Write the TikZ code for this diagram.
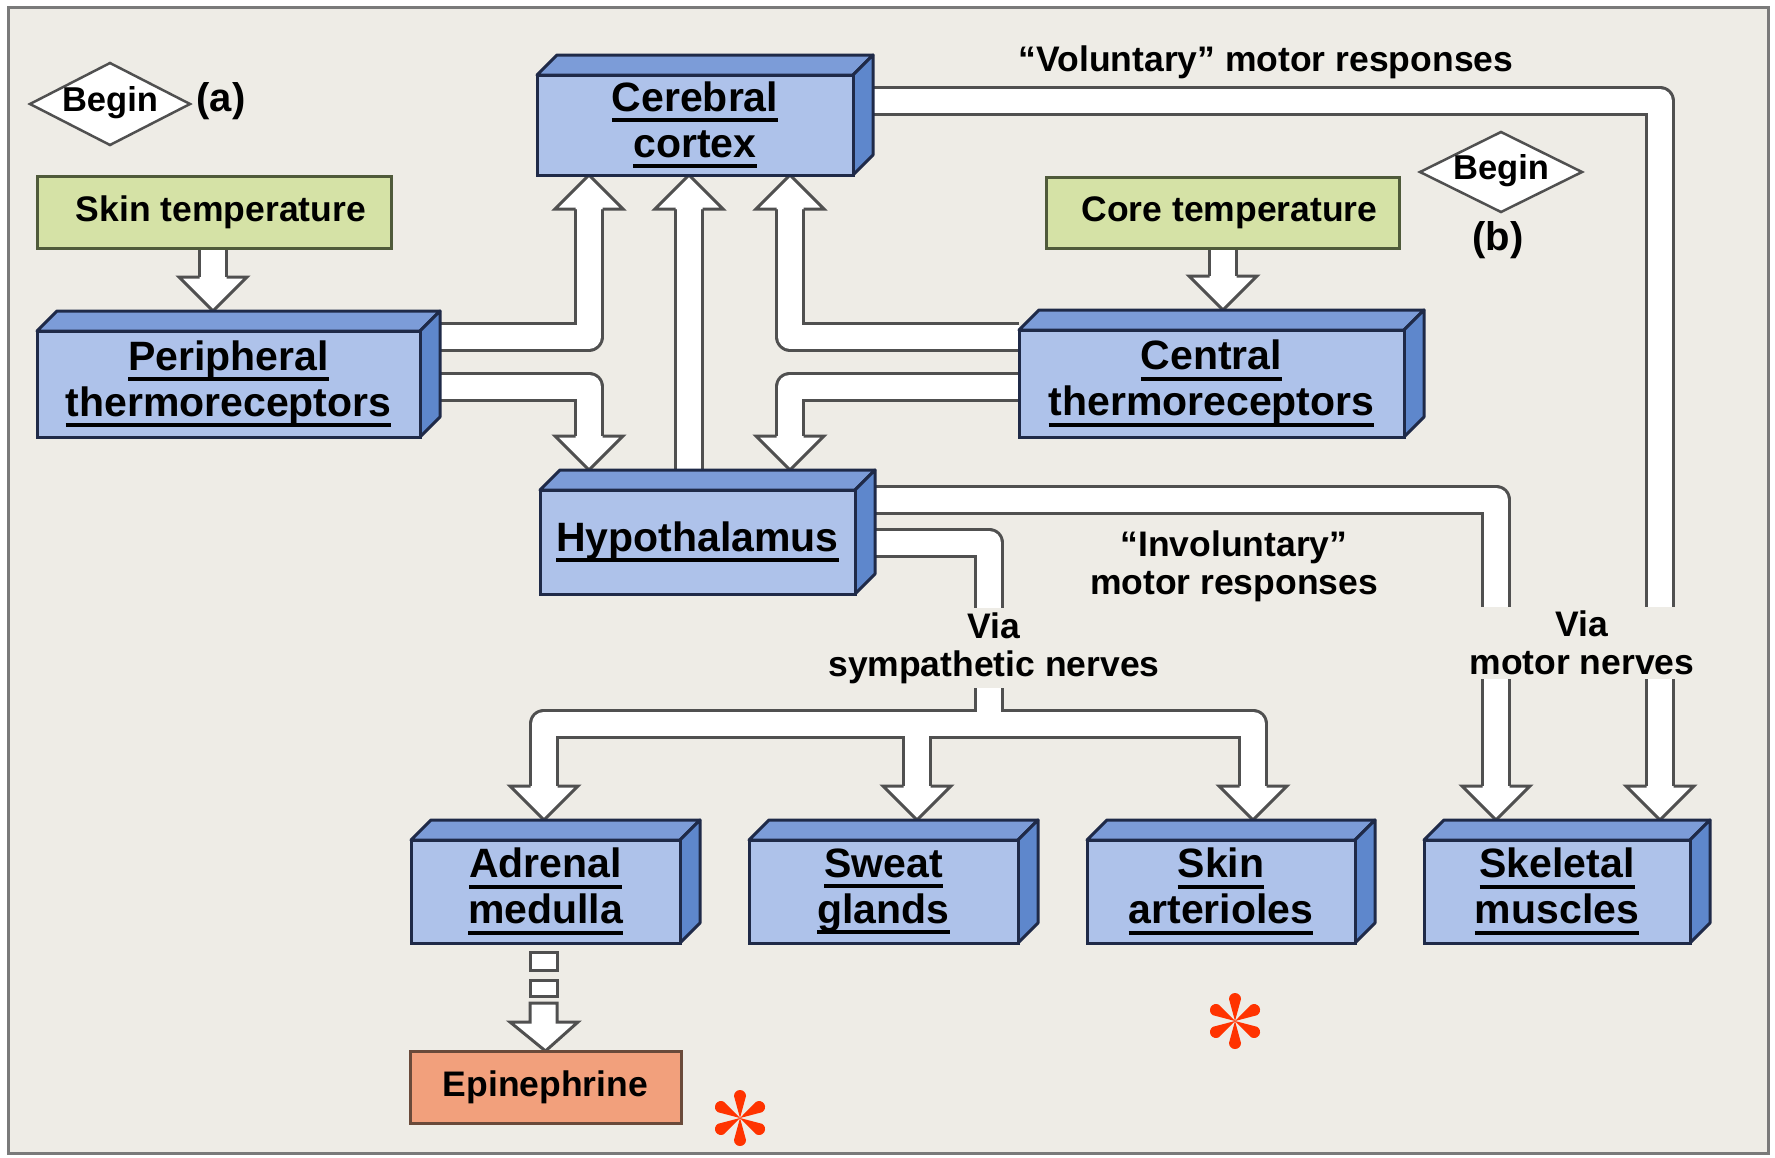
\documentclass[tikz,border=0pt]{standalone}
\usepackage{fontspec}
\setmainfont{Liberation Sans}
\usetikzlibrary{calc}
\pgfdeclarelayer{back}
\pgfdeclarelayer{chan}
\pgfsetlayers{back,chan,main}
\definecolor{bg}{HTML}{EEECE6}
\definecolor{framec}{HTML}{7A7A7A}
\definecolor{frontc}{HTML}{AEC2EA}
\definecolor{topc}{HTML}{7C9CD8}
\definecolor{sidec}{HTML}{5E87CC}
\definecolor{edgec}{HTML}{1F2A48}
\definecolor{greenc}{HTML}{D5E2A6}
\definecolor{greenedge}{HTML}{4F5A3A}
\definecolor{epic}{HTML}{F2A07C}
\definecolor{epiedge}{HTML}{6A4A3A}
\definecolor{chanline}{HTML}{505050}
\definecolor{astc}{HTML}{FF3300}

\newcommand{\ulw}[1]{\leavevmode\setbox0\hbox{#1}\rlap{\raisebox{-11pt}{\rule{\wd0}{4pt}}}\box0}

% 3D box: name, x1, y1, x2, y2 (front face), text
\newcommand{\tdbox}[6]{%
  \filldraw[topf] (#2,#3) -- (#2+20,#3-20) -- (#4+20,#3-20) -- (#4,#3) -- cycle;
  \filldraw[sidef] (#4,#3) -- (#4+20,#3-20) -- (#4+20,#5-20) -- (#4,#5) -- cycle;
  \node[front, minimum width={(#4-#2)*1pt}, minimum height={(#5-#3)*1pt}] (#1) at ({(#2+#4)/2},{(#3+#5)/2}) {#6};
  \coordinate (#1T) at ({(#2+#4)/2+10},#3-20);
  \coordinate (#1R) at (#4+20,{(#3+#5)/2});
}

% arrow head: tip coordinate, direction (1 down, -1 up)
\newcommand{\ahd}[2]{%
  \fill[white] (#1) -- ++(-34,{-34*#2}) -- ++(68,0) -- cycle;
  \draw[headst] ($(#1)+(-13.5,{-34*#2})$) -- ++(-20.5,0) -- (#1) -- ++(34,{-34*#2}) -- ++(-20.5,0);
}

% all channel centre lines
\newcommand{\chanset}[1]{%
  \draw[#1] (213,0 |- skin.south) -- ($(tSkin)+(0,-20)$);
  \draw[#1] (1223,0 |- core.south) -- ($(tCore)+(0,-20)$);
  \draw[#1] (perR |- 0,336.5) -- (589,336.5) -- ($(tPC)+(0,20)$);
  \draw[#1] (perR |- 0,386.5) -- (589,386.5) -- ($(tPH)+(0,-20)$);
  \draw[#1] (689,0 |- hypT) -- ($(tHC)+(0,20)$);
  \draw[#1] (cen.west |- 0,336.5) -- (790,336.5) -- ($(tCC)+(0,20)$);
  \draw[#1] (cen.west |- 0,386.5) -- (790,386.5) -- ($(tCH)+(0,-20)$);
  \draw[#1] (ctxR |- 0,101) -- (1660,101) -- ($(tVol)+(0,-20)$);
  \draw[#1] (hypR |- 0,499.5) -- (1496,499.5) -- ($(tInv)+(0,-20)$);
  \draw[#1] (hypR |- 0,542.5) -- (989,542.5) -- (br);
  \draw[#1] (br) -- (544,723.5) -- ($(tAdr)+(0,-20)$);
  \draw[#1] (917,723.5) -- ($(tSw)+(0,-20)$);
  \draw[#1] (br) -- (1253,723.5) -- ($(tArt)+(0,-20)$);
}

\newcommand{\redstar}[2]{%
  \foreach \ang in {90,30,-30,-90,150,210}{%
    \fill[astc, shift={(#1,#2)}, rotate=\ang] (0,0) -- (22,6) arc[start angle=90, end angle=-90, radius=6] -- cycle;}%
}

\begin{document}
\begin{tikzpicture}[x=1pt, y=-1pt,
  front/.style={draw=edgec, fill=frontc, line width=3pt, inner sep=0pt, outer sep=0pt, align=center, font=\fontsize{41}{46}\selectfont\bfseries},
  topf/.style={draw=edgec, fill=topc, line width=3pt, line join=round},
  sidef/.style={draw=edgec, fill=sidec, line width=3pt, line join=round},
  tempbox/.style={draw=greenedge, fill=greenc, line width=3pt, inner sep=0pt, outer sep=0pt, font=\fontsize{35.5}{38}\selectfont\bfseries},
  epibox/.style={draw=epiedge, fill=epic, line width=3pt, inner sep=0pt, outer sep=0pt, font=\fontsize{35.5}{38}\selectfont\bfseries},
  lbl/.style={align=center, inner sep=0pt, font=\fontsize{35.5}{38}\selectfont\bfseries},
  biglbl/.style={inner sep=0pt, font=\fontsize{40}{44}\selectfont\bfseries},
  beginlbl/.style={inner sep=0pt, font=\fontsize{34.5}{38}\selectfont\bfseries},
  diam/.style={draw=chanline, fill=white, line width=2.5pt, line join=miter},
  chanout/.style={draw=chanline, line width=30pt, line join=round},
  chanin/.style={draw=white, line width=24pt, line join=round},
  headst/.style={draw=chanline, line width=3pt, line join=miter, fill=white}]
\useasboundingbox (0,0) rectangle (1775,1157);
\begin{pgfonlayer}{back}
  \fill[white] (0,0) rectangle (1775,1157);
  \filldraw[fill=bg, draw=framec, line width=3pt] (8,7) rectangle (1768,1153);
\end{pgfonlayer}

% flat boxes
\node[tempbox, minimum width=354pt, minimum height=72pt] (skin) at (214,212) {\hspace*{14pt}Skin temperature};
\node[tempbox, minimum width=353pt, minimum height=71pt] (core) at (1222.5,212.5) {\hspace*{14pt}Core temperature};
\node[epibox, minimum width=271pt, minimum height=72pt] (epi) at (545.5,1087) {Epinephrine};

% 3D boxes
\tdbox{ctx}{537}{75}{853}{175}{\ulw{Cerebral}\\\ulw{cortex}}
\tdbox{per}{37}{331}{420}{437}{\ulw{Peripheral}\\\ulw{thermoreceptors}}
\tdbox{hyp}{540}{490}{855}{594}{\ulw{Hypothalamus}}
\tdbox{cen}{1019}{330}{1404}{437}{\ulw{Central}\\\ulw{thermoreceptors}}
\tdbox{adr}{411}{840}{680}{943}{\ulw{Adrenal}\\\ulw{medulla}}
\tdbox{sw}{749}{840}{1018}{943}{\ulw{Sweat}\\\ulw{glands}}
\tdbox{art}{1087}{840}{1355}{943}{\ulw{Skin}\\\ulw{arterioles}}
\tdbox{skel}{1424}{840}{1690}{943}{\ulw{Skeletal}\\\ulw{muscles}}

% Begin diamonds
\filldraw[diam] (30,104) -- (110,63) -- (190,104) -- (110,145) -- cycle;
\node[beginlbl] (bega) at (110,103) {Begin};
\node[biglbl] (la) at (221,101) {(a)};
\filldraw[diam] (1420,172) -- (1501,132) -- (1582,172) -- (1501,212) -- cycle;
\node[beginlbl] (begb) at (1501,171) {Begin};
\node[biglbl] (lb) at (1498,240) {(b)};

% labels
\node[lbl] (vol) at (1266,62) {“Voluntary” motor responses};
\node[lbl] (invol) at (1234,566) {“Involuntary”\\motor responses};
\node[lbl, fill=bg, inner sep=4pt] (symp) at (994,648) {Via\\sympathetic nerves};
\node[lbl, fill=bg, inner sep=4pt] (motn) at (1582,643) {Via\\motor nerves};

% arrow tips
\coordinate (tSkin) at (213,0 |- perT);
\coordinate (tCore) at (1223,0 |- cenT);
\coordinate (tPC) at (589,0 |- ctx.south);
\coordinate (tPH) at (589,0 |- hypT);
\coordinate (tHC) at (689,0 |- ctx.south);
\coordinate (tCC) at (790,0 |- ctx.south);
\coordinate (tCH) at (790,0 |- hypT);
\coordinate (tVol) at (1660,0 |- skelT);
\coordinate (tInv) at (1496,0 |- skelT);
\coordinate (tAdr) at (544,0 |- adrT);
\coordinate (tSw) at (917,0 |- swT);
\coordinate (tArt) at (1253,0 |- artT);
\coordinate (br) at (989,723.5);

\begin{pgfonlayer}{chan}
  \chanset{chanout}
  \chanset{chanin}
  \ahd{tSkin}{1}
  \ahd{tCore}{1}
  \ahd{tPC}{-1}
  \ahd{tPH}{1}
  \ahd{tHC}{-1}
  \ahd{tCC}{-1}
  \ahd{tCH}{1}
  \ahd{tVol}{1}
  \ahd{tInv}{1}
  \ahd{tAdr}{1}
  \ahd{tSw}{1}
  \ahd{tArt}{1}
  % adrenal -> epinephrine (broken arrow)
  \filldraw[headst] (530,952) rectangle (557,970);
  \filldraw[headst] (530,980) rectangle (557,996);
  \filldraw[headst] (530,1003) -- (557,1003) -- (557,1022) -- (578,1022) -- (epi.north) -- (510,1022) -- (530,1022) -- cycle;
\end{pgfonlayer}

% red asterisks
\redstar{1235}{1021}
\redstar{740}{1118}
\end{tikzpicture}
\end{document}
